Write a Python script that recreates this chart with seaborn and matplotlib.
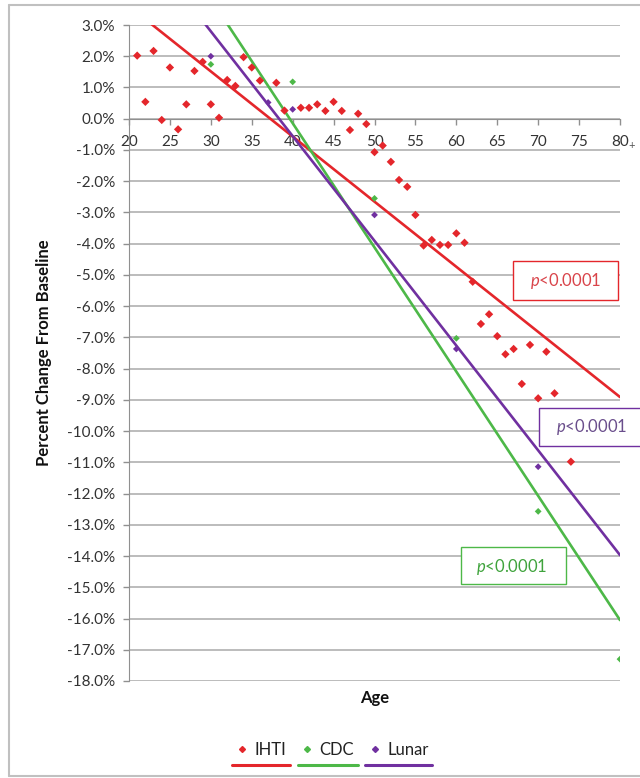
import numpy as np
import pandas as pd
import matplotlib
matplotlib.use("Agg")
import matplotlib.pyplot as plt
import seaborn as sns
from matplotlib.lines import Line2D
from matplotlib.patches import Rectangle
from matplotlib.ticker import FuncFormatter, MultipleLocator

# DATA
ihti_age = [21, 22, 23, 24, 25, 26, 27, 28, 29, 30, 31, 32, 33, 34, 35, 36, 38, 39,
            41, 42, 43, 44, 45, 46, 47, 48, 49, 50, 51, 52, 53, 54, 55, 56, 57, 58,
            59, 60, 61, 62, 63, 64, 65, 66, 67, 68, 69, 70, 71, 72, 74]
ihti_pct = [2.02, 0.54, 2.17, -0.04, 1.64, -0.34, 0.46, 1.53, 1.82, 0.46, 0.03, 1.24,
            1.05, 1.97, 1.64, 1.22, 1.15, 0.26, 0.35, 0.35, 0.46, 0.25, 0.54, 0.25,
            -0.36, 0.16, -0.17, -1.07, -0.86, -1.38, -1.96, -2.18, -3.08, -4.06,
            -3.88, -4.04, -4.04, -3.67, -3.97, -5.22, -6.57, -6.26, -6.96, -7.54,
            -7.37, -8.49, -7.24, -8.95, -7.46, -8.79, -10.98]

cdc_age = [30, 40, 50, 60, 70, 80]
cdc_pct = [1.74, 1.18, -2.55, -7.03, -12.57, -17.30]

lunar_age = [30, 37, 40, 50, 60, 70]
lunar_pct = [2.00, 0.52, 0.30, -3.08, -7.37, -11.14]

# linear trendlines, value at age 20 and age 80
trend_age = [20, 80]
ihti_trend = [3.60, -8.91]
cdc_trend = [7.81, -16.05]
lunar_trend = [6.15, -13.97]

series_names = ['IHTI', 'CDC', 'Lunar']
p_labels = ['$p$<0.0001', '$p$<0.0001', '$p$<0.0001']

# STYLE
sns.set_style("white")
plt.rcParams['font.family'] = ['Lato', 'DejaVu Sans']
plt.rcParams['mathtext.fontset'] = 'custom'
plt.rcParams['mathtext.rm'] = 'Lato'
plt.rcParams['mathtext.it'] = 'Lato:italic'

colors = {'IHTI': '#E4262B', 'CDC': '#4DB848', 'Lunar': '#7030A0'}
text_colors = {'IHTI': '#D9444A', 'CDC': '#3FA33C', 'Lunar': '#6A4E8C'}
grid_col = '#B0B0B0'

fig = plt.figure(figsize=(6.4, 7.78), dpi=100)
ax = fig.add_axes([129 / 640, 1 - 681 / 778, 491 / 640, 656 / 778])

points = {
    'IHTI': (ihti_age, ihti_pct),
    'CDC': (cdc_age, cdc_pct),
    'Lunar': (lunar_age, lunar_pct),
}
trends = {'IHTI': ihti_trend, 'CDC': cdc_trend, 'Lunar': lunar_trend}

for name in series_names:
    df = pd.DataFrame({'age': trend_age, 'pct': trends[name]})
    sns.lineplot(data=df, x='age', y='pct', color=colors[name], lw=1.9, ax=ax, zorder=3)

for name in series_names:
    x, y = points[name]
    df = pd.DataFrame({'age': x, 'pct': y})
    size = 18 if name == 'IHTI' else 12
    sns.scatterplot(data=df, x='age', y='pct', color=colors[name], marker='D',
                    s=size, edgecolor='none', ax=ax, zorder=4)

ax.set_xlim(20, 80)
ax.set_ylim(-18, 3)
ax.yaxis.set_major_locator(MultipleLocator(1))
ax.xaxis.set_major_locator(MultipleLocator(5))
ax.yaxis.set_major_formatter(FuncFormatter(lambda v, _: f"{v:.1f}%"))
ax.grid(axis='y', color=grid_col, lw=1.2)
ax.grid(axis='x', visible=False)
ax.set_axisbelow(True)

for s in ['top', 'right']:
    ax.spines[s].set_visible(False)
ax.spines['bottom'].set_position(('data', 0))
ax.spines['bottom'].set_color('#909090')
ax.spines['left'].set_color('#909090')
ax.spines['bottom'].set_zorder(1)

ax.tick_params(axis='y', direction='out', length=4, width=1, color='#909090',
               pad=6, labelsize=11, labelcolor='#333333', left=True)
ax.tick_params(axis='x', direction='out', length=4, width=1, color='#909090',
               pad=8, labelsize=11, labelcolor='#333333', bottom=True)

ax.set_ylabel('Percent Change From Baseline', fontsize=12, fontweight='bold', color='#111111')
ax.yaxis.set_label_coords(-0.156, 0.5)
ax.set_xlabel('Age', fontsize=12, fontweight='bold', color='#111111')
ax.xaxis.set_label_coords(0.5, -0.014)

# p-value boxes (data coords: x0, x1, y0, y1, text x, text y)
boxes = {
    'IHTI': (66.94, 79.78, -5.80, -4.55, 73.36, -5.18),
    'Lunar': (70.12, 82.72, -10.48, -9.26, 76.6, -9.86),
    'CDC': (60.59, 73.42, -14.89, -13.71, 66.75, -14.34),
}
for name, lab in zip(series_names, p_labels):
    x0, x1, y0, y1, tx, ty = boxes[name]
    ax.add_patch(Rectangle((x0, y0), x1 - x0, y1 - y0, fc='white', ec=colors[name],
                           lw=1.0, zorder=5, clip_on=False))
    ax.text(tx, ty, lab, ha='center', va='center', fontsize=12,
            color=text_colors[name], zorder=6, clip_on=False)

ax.text(632 / 640, 1 - 145 / 778, '+', transform=fig.transFigure, ha='center',
        va='center', fontsize=8, color='#555555')

# legend
handles = [Line2D([], [], marker='D', color=colors[n], linestyle='None', markersize=3)
           for n in series_names]
leg = fig.legend(handles=handles, labels=series_names, loc='center',
                 bbox_to_anchor=(333 / 640, 1 - 750 / 778), ncol=3, frameon=False,
                 fontsize=12, handlelength=0.5, handletextpad=0.5, columnspacing=1.0)
for t in leg.get_texts():
    t.set_color('#222222')

fig.canvas.draw()
inv = fig.transFigure.inverted()
renderer = fig.canvas.get_renderer()
for h, t, n in zip(leg.legend_handles, leg.get_texts(), series_names):
    hb = h.get_window_extent(renderer)
    tb = t.get_window_extent(renderer)
    x0 = min(hb.x0, tb.x0) - 3
    x1 = tb.x1 + 4
    y = 778 - 765
    (fx0, fy), (fx1, _) = inv.transform([(x0, y), (x1, y)])
    fig.add_artist(Line2D([fx0, fx1], [fy, fy], color=colors[n], lw=2.2,
                          transform=fig.transFigure))

# chart border
bc = '#C0C0C0'
fig.add_artist(Line2D([9 / 640, 1.0], [1 - 5 / 778] * 2, color=bc, lw=1.5, transform=fig.transFigure))
fig.add_artist(Line2D([9 / 640] * 2, [1 - 5 / 778, 1 - 776 / 778], color=bc, lw=1.5, transform=fig.transFigure))
fig.add_artist(Line2D([9 / 640, 1.0], [1 - 776 / 778] * 2, color=bc, lw=1.5, transform=fig.transFigure))

fig.savefig('out.png', dpi=100)
